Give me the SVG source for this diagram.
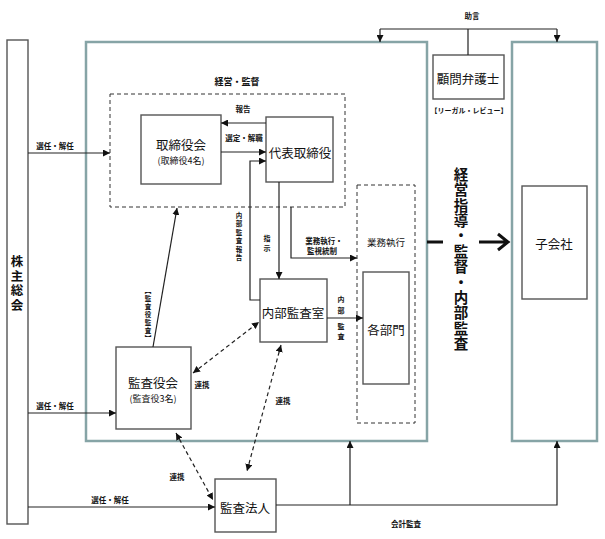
<svg xmlns="http://www.w3.org/2000/svg" width="605" height="539" viewBox="0 0 605 539">
<style>
text{font-family:"Noto Sans CJK JP","Noto Sans",sans-serif;fill:#111;}
.box{fill:#fff;stroke:#555;stroke-width:1.4;}
.teal{fill:#fff;stroke:#86a4a6;stroke-width:2.5;}
.dash{fill:none;stroke:#333;stroke-width:1;stroke-dasharray:4 3;}
.ln{fill:none;stroke:#222;stroke-width:1.2;}
.dl{fill:none;stroke:#222;stroke-width:1.2;stroke-dasharray:4 3;}
.big{font-size:12.5px;text-anchor:middle;dominant-baseline:central;}
.mid{font-size:9.5px;text-anchor:middle;dominant-baseline:central;}
.sm{font-size:7.5px;font-weight:bold;text-anchor:middle;dominant-baseline:central;}
.vs{font-size:6.5px;font-weight:bold;text-anchor:middle;dominant-baseline:central;}
</style>
<defs>
<marker id="ah" viewBox="0 0 10 10" refX="10" refY="5" markerWidth="7" markerHeight="7" markerUnits="userSpaceOnUse" orient="auto-start-reverse"><path d="M0,0 L10,5 L0,10 z" fill="#111"/></marker>
</defs>
<g id="shareholders"><rect class="box" x="7" y="40" width="21" height="484"/><text class="big" style="font-size:12.5px;font-weight:bold"><tspan x="17" y="260">株</tspan><tspan x="17" y="274.5">主</tspan><tspan x="17" y="289">総</tspan><tspan x="17" y="303.5">会</tspan></text></g>
<g id="group-main"><rect class="teal" x="86" y="42" width="341" height="399"/><text class="mid" x="237" y="81" style="font-weight:bold;font-size:9px">経営・監督</text></g>
<g id="group-sub"><rect class="teal" x="512" y="42" width="85" height="399"/></g>
<g id="board-area"><rect class="dash" x="110" y="94" width="235" height="113"/></g>
<g id="dept-area"><rect class="dash" x="357" y="185" width="58" height="238"/><text class="mid" x="386" y="242">業務執行</text></g>
<g id="lawyer"><rect class="box" x="433" y="55" width="71" height="44"/><text class="big" x="468" y="78">顧問弁護士</text><text class="sm" x="469" y="110" style="font-size:7px">【リーガル・レビュー】</text></g>
<g id="board"><rect class="box" x="141" y="115" width="80" height="69"/><text class="big" x="181" y="144">取締役会</text><text class="mid" x="181" y="160" style="font-size:9px">(取締役4名)</text></g>
<g id="ceo"><rect class="box" x="266" y="117" width="67" height="65"/><text class="big" x="300" y="152">代表取締役</text></g>
<g id="internal-audit"><rect class="box" x="260" y="279" width="67" height="63"/><text class="big" x="293" y="312">内部監査室</text></g>
<g id="depts"><rect class="box" x="363" y="272" width="46" height="112"/><text class="big" x="386" y="329">各部門</text></g>
<g id="auditors"><rect class="box" x="116" y="347" width="75" height="82"/><text class="big" x="153" y="382">監査役会</text><text class="mid" x="153" y="398" style="font-size:9px">(監査役3名)</text></g>
<g id="audit-firm"><rect class="box" x="215" y="479" width="61" height="53"/><text class="big" x="245" y="507">監査法人</text></g>
<g id="subsidiary"><rect class="box" x="522" y="186" width="65" height="113"/><text class="big" x="554" y="243">子会社</text></g>
<g id="connectors">
<path class="ln" d="M468,55 V29 M380,29 H557 M380,29 V42" marker-end="url(#ah)"/>
<path class="ln" d="M557,29 V42" marker-end="url(#ah)"/>
<text class="sm" x="472" y="15">助言</text>
<path class="ln" d="M28,153 H110" marker-end="url(#ah)"/>
<text class="sm" x="55" y="145">選任・解任</text>
<path class="ln" d="M28,413 H116" marker-end="url(#ah)"/>
<text class="sm" x="55" y="405">選任・解任</text>
<path class="ln" d="M28,507 H215" marker-end="url(#ah)"/>
<text class="sm" x="110" y="499">選任・解任</text>
<path class="ln" d="M266,123 H221" marker-end="url(#ah)"/>
<text class="sm" x="243" y="108">報告</text>
<path class="ln" d="M221,152 H266" marker-end="url(#ah)"/>
<text class="sm" x="244" y="137">選定・解職</text>
<path class="ln" d="M260,300 H250 V161 H266" marker-end="url(#ah)"/>
<text class="vs"><tspan x="239" y="215">内</tspan><tspan x="239" y="223.4">部</tspan><tspan x="239" y="231.8">監</tspan><tspan x="239" y="240.2">査</tspan><tspan x="239" y="248.6">報</tspan><tspan x="239" y="257">告</tspan></text>
<path class="ln" d="M279,182 V279" marker-end="url(#ah)"/>
<text class="vs" style="font-size:7px"><tspan x="267" y="238">指</tspan><tspan x="267" y="248">示</tspan></text>
<path class="ln" d="M291,207 V258 H357" marker-end="url(#ah)"/>
<text class="sm" x="324" y="240">業務執行・</text>
<text class="sm" x="322" y="250">監視統制</text>
<path class="ln" d="M327,318 H363" marker-end="url(#ah)"/>
<text class="vs" style="font-size:7px"><tspan x="341" y="299">内</tspan><tspan x="341" y="310">部</tspan><tspan x="341" y="326">監</tspan><tspan x="341" y="336">査</tspan></text>
<path class="ln" d="M153,347 L177,208" marker-end="url(#ah)"/>
<text class="vs"><tspan x="148" y="290">︻</tspan><tspan x="148" y="298">監</tspan><tspan x="148" y="306">査</tspan><tspan x="148" y="314">役</tspan><tspan x="148" y="322">監</tspan><tspan x="148" y="330">査</tspan><tspan x="148" y="338">︼</tspan></text>
<path class="dl" d="M193,373 L259,322" marker-start="url(#ah)" marker-end="url(#ah)"/>
<text class="sm" x="202" y="384">連携</text>
<path class="dl" d="M281,345 L247,471" marker-start="url(#ah)" marker-end="url(#ah)"/>
<text class="sm" x="283" y="400">連携</text>
<path class="dl" d="M176,433 L213,500" marker-start="url(#ah)" marker-end="url(#ah)"/>
<text class="sm" x="177" y="476">連携</text>
<path class="ln" d="M276,505 H557 V441" marker-end="url(#ah)"/>
<path class="ln" d="M350,505 V441" marker-end="url(#ah)"/>
<text class="sm" x="406" y="523">会計監査</text>
<path fill="none" stroke="#111" stroke-width="3" d="M427,242 H443 M479,242 H507 M498,234 L508,242 L498,250"/>
<text class="big" style="font-size:14.5px;font-weight:bold"><tspan x="461" y="173">経</tspan><tspan x="461" y="188.4">営</tspan><tspan x="461" y="203.7">指</tspan><tspan x="461" y="219.1">導</tspan><tspan x="461" y="234.4">・</tspan><tspan x="461" y="249.8">監</tspan><tspan x="461" y="265.2">督</tspan><tspan x="461" y="280.5">・</tspan><tspan x="461" y="295.9">内</tspan><tspan x="461" y="311.2">部</tspan><tspan x="461" y="326.6">監</tspan><tspan x="461" y="342">査</tspan></text>
</g>
</svg>
